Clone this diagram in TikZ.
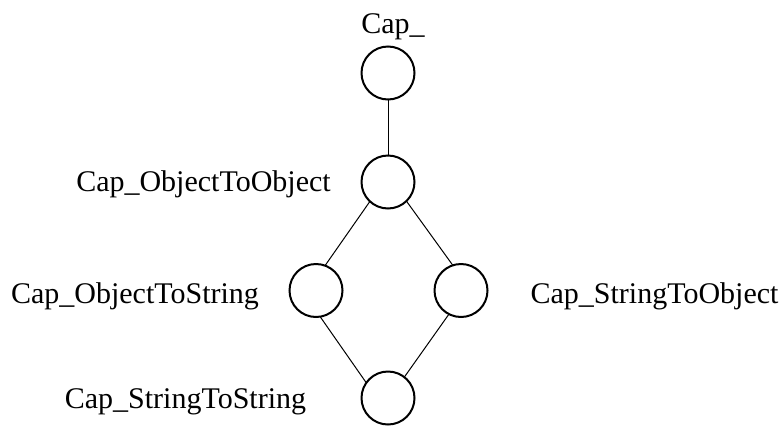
\documentclass[tikz,border=0pt]{standalone}
\usepackage{fontspec}
\setmainfont{Liberation Serif}
\begin{document}
\begin{tikzpicture}[x=1pt,y=-1pt,
  cls/.style={circle,draw,line width=2pt,minimum size=53pt,inner sep=0pt,outer sep=0pt},
  lbl/.style={font=\fontsize{30}{36}\selectfont,inner sep=0pt,anchor=base},
  edge/.style={line width=1pt}]
\useasboundingbox (0,0) rectangle (781,426);
% lattice nodes
\node[cls] (top) at (388,73) {};
\node[cls] (oo) at (388,182) {};
\node[cls] (os) at (316,290.5) {};
\node[cls] (so) at (461,290.5) {};
\node[cls] (ss) at (388,398) {};
% labels
\node[lbl] (ltop) at (393,33.3) {Cap\_};
\node[lbl] (loo) at (203.5,191.7) {Cap\_ObjectToObject};
\node[lbl] (los) at (135,303.3) {Cap\_ObjectToString};
\node[lbl] (lso) at (654.5,303.3) {Cap\_StringToObject};
\node[lbl] (lss) at (185.5,408) {Cap\_StringToString};
% edges
\draw[edge] (top.south) -- (oo.north);
\draw[edge] (oo.227) -- (os.70);
\draw[edge] (oo.314) -- (so.108);
\draw[edge] (os.279) -- (ss.145);
\draw[edge] (so.243) -- (ss.52);
\end{tikzpicture}
\end{document}
